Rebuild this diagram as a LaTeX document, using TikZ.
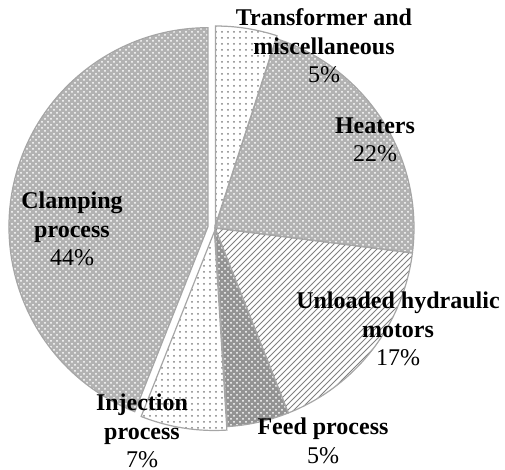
\documentclass[tikz,border=0pt]{standalone}
\usepackage{fontspec}
\setmainfont{Liberation Serif}
\usetikzlibrary{patterns}

\begin{document}
\begin{tikzpicture}[x=0.5pt, y=0.5pt,
		spicchio/.style={draw=gray!70, line width=0.6pt},
		etichetta/.style={align=center, font=\fontsize{12}{14.25}\selectfont}]
		\useasboundingbox (0,0) rectangle (505,470);
		
		% Spicchi (centro in 215,242 - raggio 199)
		\begin{scope}[shift={(215,242)}]
			\draw[spicchio, pattern=dots, pattern color=gray] (0.5,3) -- ++(90:199) arc[start angle=90, end angle=72, radius=199] -- cycle;
			\draw[spicchio, preaction={fill=gray!60}, pattern=crosshatch dots, pattern color=white] (0,0) -- ++(72:199) arc[start angle=72, end angle=-7.2, radius=199] -- cycle;
			\draw[spicchio, pattern=north east lines, pattern color=gray] (0,0) -- ++(-7.2:199) arc[start angle=-7.2, end angle=-68.4, radius=199] -- cycle;
			\draw[spicchio, preaction={fill=gray!85}, pattern=crosshatch dots, pattern color=white] (0,0) -- ++(-68.4:199) arc[start angle=-68.4, end angle=-86.4, radius=199] -- cycle;
			\draw[spicchio, pattern=dots, pattern color=gray] (-0.6,-3.5) -- ++(-86.4:199) arc[start angle=-86.4, end angle=-111.6, radius=199] -- cycle;
			\draw[spicchio, preaction={fill=gray!60}, pattern=crosshatch dots, pattern color=white] (-7,1.3) -- ++(-111.6:199) arc[start angle=-111.6, end angle=-270, radius=199] -- cycle;
		\end{scope}
		
		% Etichette
		\node[etichetta] (trasf) at (324,424) {\textbf{Transformer and}\\\textbf{miscellaneous}\\5\%};
		\node[etichetta] (riscald) at (375,330) {\textbf{Heaters}\\22\%};
		\node[etichetta] (chiusura) at (72,241) {\textbf{Clamping}\\\textbf{process}\\44\%};
		\node[etichetta] (motori) at (398,141) {\textbf{Unloaded hydraulic}\\\textbf{motors}\\17\%};
		\node[etichetta] (iniezione) at (142,39) {\textbf{Injection}\\\textbf{process}\\7\%};
		\node[etichetta] (alim) at (323,29) {\textbf{Feed process}\\5\%};
	\end{tikzpicture}
\end{document}
